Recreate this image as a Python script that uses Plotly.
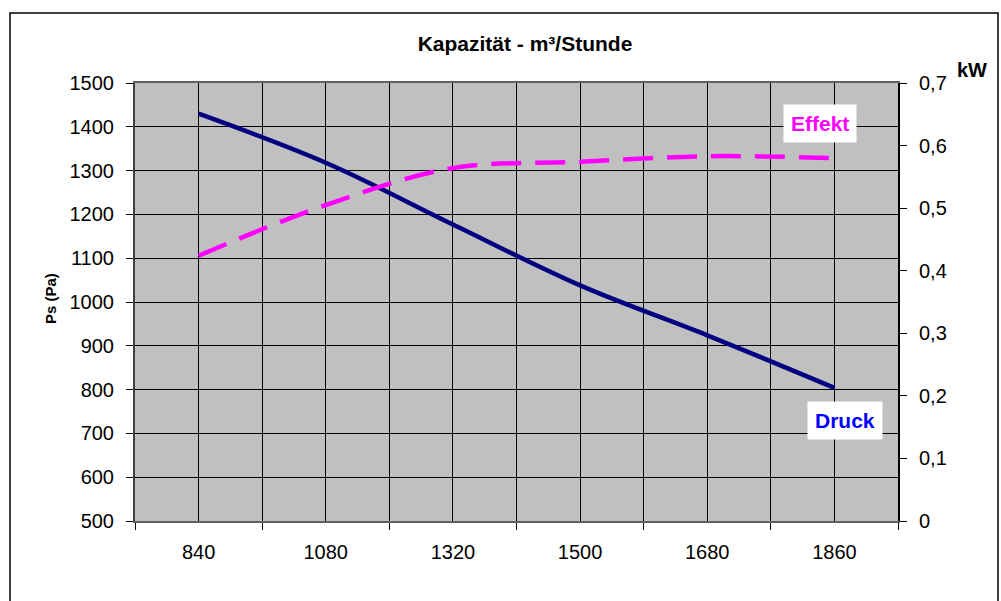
import plotly.graph_objects as go

# Data
flow_labels = ["840", "1080", "1320", "1500", "1680", "1860"]   # Kapazität m³/Stunde
druck_pa = [1430, 1318, 1177, 1038, 924, 804]                  # Ps (Pa), left axis
effekt_kw = [0.424, 0.505, 0.564, 0.574, 0.583, 0.580]         # kW, right axis

idx = list(range(len(flow_labels)))

W, H = 1001, 601
L, R, T, B = 135, 103, 83, 80
pw, ph = W - L - R, H - T - B

def px(xpix):
    return (xpix - L) / pw

def py(ypix):
    return (H - B - ypix) / ph

FONT = "Arial, Liberation Sans, sans-serif"

fig = go.Figure()
fig.add_trace(go.Scatter(
    x=idx, y=druck_pa, mode="lines", name="Druck",
    line=dict(color="#000080", width=4.5, shape="spline", smoothing=1),
    yaxis="y", showlegend=False,
))
fig.add_trace(go.Scatter(
    x=idx, y=effekt_kw, mode="lines", name="Effekt",
    line=dict(color="#FF00FF", width=4.5, shape="spline", smoothing=1, dash="30px,14px"),
    yaxis="y2", showlegend=False,
))

fig.update_layout(
    width=W, height=H, autosize=False,
    margin=dict(l=L, r=R, t=T, b=B),
    paper_bgcolor="white", plot_bgcolor="#C0C0C0",
    separators=",.",
    font=dict(family=FONT, size=20, color="black"),
    title=dict(text="<b>Kapazität - m³/Stunde</b>", x=525 / W, xanchor="center",
               y=1 - 44 / H, yanchor="middle", font=dict(family=FONT, size=21, color="black")),
    xaxis=dict(
        range=[-0.5, len(flow_labels) - 0.5],
        tickmode="array", tickvals=idx, ticktext=flow_labels,
        ticks="", showgrid=True, gridcolor="black", gridwidth=1,
        showline=True, linecolor="#606060", linewidth=2, mirror=True,
        ticklabelstandoff=12,
        minor=dict(tickmode="linear", tick0=-0.5, dtick=1, ticks="outside", ticklen=7,
                   tickcolor="black", tickwidth=1, showgrid=True, gridcolor="black", gridwidth=1),
        zeroline=False, fixedrange=True,
    ),
    yaxis=dict(
        range=[500, 1500], dtick=100, tick0=500,
        ticks="outside", ticklen=7, tickcolor="black",
        showgrid=True, gridcolor="black", gridwidth=1,
        showline=True, linecolor="#404040", linewidth=2,
        zeroline=False, ticklabelstandoff=8,
    ),
    yaxis2=dict(
        range=[0, 0.7], dtick=0.1, tick0=0, overlaying="y", side="right",
        ticks="outside", ticklen=7, tickcolor="black",
        showgrid=False, showline=True, linecolor="black", linewidth=2,
        zeroline=False, ticklabelstandoff=8,
    ),
    shapes=[dict(type="rect", xref="paper", yref="paper",
                 x0=px(10), x1=px(998), y0=py(640), y1=py(13),
                 line=dict(color="black", width=1.5), layer="above")],
    annotations=[
        dict(text="<b>Ps (Pa)</b>", xref="paper", yref="paper", x=px(50), y=py(299),
             showarrow=False, textangle=-90, font=dict(family=FONT, size=15, color="black"),
             xanchor="center", yanchor="middle"),
        dict(text="<b>kW</b>", xref="paper", yref="paper", x=px(972), y=py(70),
             showarrow=False, font=dict(family=FONT, size=20, color="black"),
             xanchor="center", yanchor="middle"),
        dict(text="<b>Effekt</b>", xref="paper", yref="paper", x=px(820), y=py(123),
             showarrow=False, font=dict(family=FONT, size=21, color="#FF00FF"),
             bgcolor="white", borderpad=7, xanchor="center", yanchor="middle"),
        dict(text="<b>Druck</b>", xref="paper", yref="paper", x=px(845), y=py(420),
             showarrow=False, font=dict(family=FONT, size=21, color="#0000FF"),
             bgcolor="white", borderpad=7, xanchor="center", yanchor="middle"),
    ],
)

fig.write_html("out.html", config={"displayModeBar": False},
               post_script="document.body.style.margin='0';document.body.style.padding='0';")
